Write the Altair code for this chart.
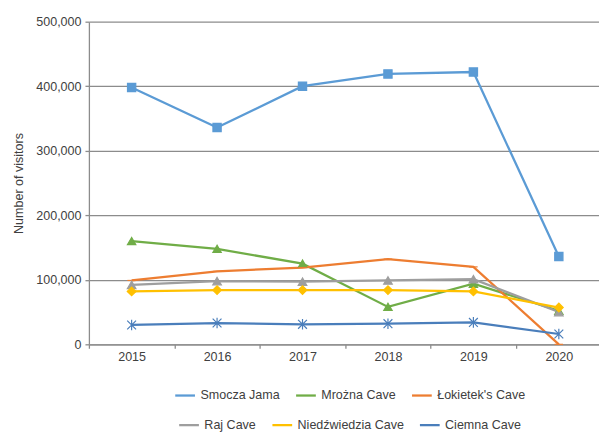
import altair as alt
import pandas as pd

years = [2015, 2016, 2017, 2018, 2019, 2020]
series = ["Smocza Jama", "Mrożna Cave", "Łokietek's Cave",
          "Raj Cave", "Niedźwiedzia Cave", "Ciemna Cave"]
smocza = [398000, 336000, 400000, 419000, 422000, 136000]
mrozna = [160000, 148000, 125000, 58000, 94000, 52000]
lokietek = [99000, 113000, 119000, 132000, 120000, 0]
raj = [92000, 98000, 97000, 99000, 101000, 50000]
niedz = [82000, 84000, 84000, 84000, 82000, 57000]
ciemna = [30000, 33000, 31000, 32000, 34000, 16000]

colors = ["#5B9BD5", "#70AD47", "#ED7D31", "#9E9E9E", "#FFC000", "#4A7EBB"]
shapes = ["square", "triangle-up", "M-1,0L1,0", "triangle-up", "diamond",
          "M-1,-1L1,1M-1,1L1,-1M0,-1.2L0,1.2"]
sizes = [70, 80, 30, 80, 55, 90]

values = [smocza, mrozna, lokietek, raj, niedz, ciemna]
rows = []
for s, vals in zip(series, values):
    for y, v in zip(years, vals):
        rows.append({"series": s, "year": y, "visitors": v})
df = pd.DataFrame(rows)

FONT = "Liberation Sans"
FS = 12.7

x_enc = alt.X(
    "year:Q",
    scale=alt.Scale(domain=[2014.5, 2020.47], nice=False, zero=False),
    axis=alt.Axis(
        values=[2014.5, 2015.5, 2016.5, 2017.5, 2018.5, 2019.5],
        labelExpr="floor(datum.value) + 1",
        labelOffset=43.3,
        labelFlush=False,
        labelOverlap=False,
        tickSize=4,
        labelPadding=2,
        grid=False,
        title=None,
    ),
)
y_enc = alt.Y(
    "visitors:Q",
    scale=alt.Scale(domain=[0, 500000], nice=False),
    axis=alt.Axis(
        values=[0, 100000, 200000, 300000, 400000, 500000],
        format=",.0f",
        title="Number of visitors",
        titlePadding=10,
        tickSize=4,
        labelPadding=4,
        grid=True,
    ),
)

g1, g2 = series[:3], series[3:]
c1, c2 = colors[:3], colors[3:]


def line_layer(group, cols, lx, ly):
    return alt.Chart(df).transform_filter(
        alt.FieldOneOfPredicate(field="series", oneOf=group)
    ).mark_line(strokeWidth=2.3).encode(
        x=x_enc,
        y=y_enc,
        color=alt.Color(
            "series:N",
            scale=alt.Scale(domain=group, range=cols),
            sort=group,
            legend=alt.Legend(
                title=None,
                orient="none",
                legendX=lx,
                legendY=ly,
                direction="horizontal",
                symbolType="stroke",
                symbolSize=400,
                symbolStrokeWidth=2.3,
                labelFont=FONT,
                labelFontSize=FS,
                labelColor="#404040",
                labelOffset=4,
                columnPadding=10.5,
                padding=0,
            ),
        ),
    )


lines1 = line_layer(g1, c1, 86, 367)
lines2 = line_layer(g2, c2, 90, 397)

points = alt.Chart(df).mark_point(filled=True, opacity=1, strokeWidth=1.2).encode(
    x=x_enc,
    y=y_enc,
    color=alt.Color("series:N", scale=alt.Scale(domain=series, range=colors), legend=None),
    stroke=alt.Stroke("series:N", scale=alt.Scale(domain=series, range=colors), legend=None),
    shape=alt.Shape("series:N", scale=alt.Scale(domain=series, range=shapes), legend=None),
    size=alt.Size("series:N", scale=alt.Scale(domain=series, range=sizes), legend=None),
)

chart = alt.layer(lines1, lines2, points).resolve_scale(
    color="independent", stroke="independent"
).properties(
    width=517,
    height=327,
    padding={"left": 82, "top": 11, "right": 0, "bottom": 87},
    autosize=alt.AutoSizeParams(type="none"),
).configure_view(
    stroke=None
).configure_axis(
    labelFont=FONT,
    labelFontSize=FS,
    labelColor="#404040",
    titleFont=FONT,
    titleFontSize=FS,
    titleFontWeight="normal",
    titleColor="#404040",
    domainColor="#8c8c8c",
    domainWidth=1.3,
    tickColor="#8c8c8c",
    tickWidth=1.3,
    gridColor="#8c8c8c",
    gridWidth=1.3,
)

chart.save("out.html", embed_options={"renderer": "svg", "actions": False})
